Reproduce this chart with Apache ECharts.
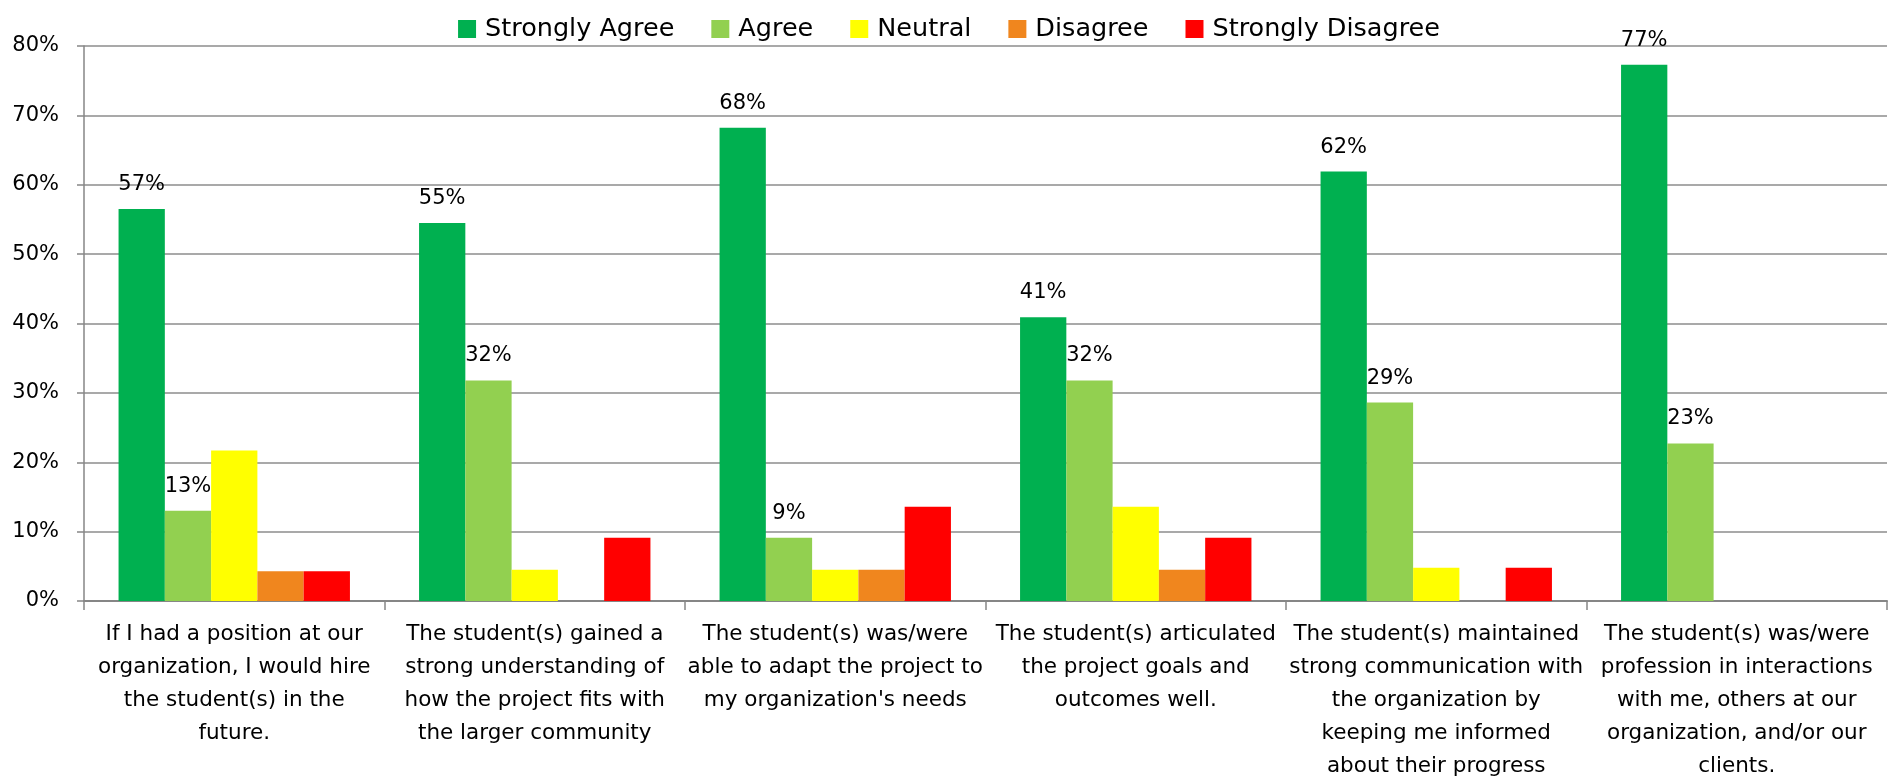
<!DOCTYPE html>
<html>
<head>
<meta charset="utf-8">
<script src="https://cdn.jsdelivr.net/npm/echarts@6/dist/echarts.min.js"></script>
<style>
html,body{margin:0;padding:0;background:#fff;}
#chart{width:1898px;height:777px;}
</style>
</head>
<body>
<div id="chart"></div>
<script>
const categories = [
  "If I had a position at our\norganization, I would hire\nthe student(s) in the\nfuture.",
  "The student(s) gained a\nstrong understanding of\nhow the project fits with\nthe larger community",
  "The student(s) was/were\nable to adapt the project to\nmy organization's needs",
  "The student(s) articulated\nthe project goals and\noutcomes well.",
  "The student(s) maintained\nstrong communication with\nthe organization by\nkeeping me informed\nabout their progress",
  "The student(s) was/were\nprofession in interactions\nwith me, others at our\norganization, and/or our\nclients."
];
const seriesNames = ["Strongly Agree", "Agree", "Neutral", "Disagree", "Strongly Disagree"];
const stronglyAgree    = [56.5, 54.5, 68.2, 40.9, 61.9, 77.3];
const agree            = [13.0, 31.8, 9.1, 31.8, 28.6, 22.7];
const neutral          = [21.7, 4.5, 4.5, 13.6, 4.8, 0];
const disagree         = [4.3, 0, 4.5, 4.5, 0, 0];
const stronglyDisagree = [4.3, 9.1, 13.6, 9.1, 4.8, 0];
const yTicks = [0, 10, 20, 30, 40, 50, 60, 70, 80];

const colors = ["#00B050", "#92D050", "#FFFF00", "#F0861E", "#FF0000"];
const values = [stronglyAgree, agree, neutral, disagree, stronglyDisagree];
const labeled = [true, true, false, false, false];
const FONT = "'DejaVu Sans', sans-serif";

const chart = echarts.init(document.getElementById('chart'), null, {renderer: 'canvas'});
chart.setOption({
  animation: false,
  backgroundColor: '#ffffff',
  color: colors,
  legend: {
    data: seriesNames,
    top: 11,
    left: 'center',
    itemWidth: 18,
    itemHeight: 18,
    itemGap: 37,
    icon: 'rect',
    textStyle: {fontFamily: FONT, fontSize: 25.5, color: '#000', padding: [0, 0, 0, 4]}
  },
  grid: {left: 84, right: 11, top: 46, bottom: 176, containLabel: false, outerBoundsMode: 'none'},
  xAxis: {
    type: 'category',
    data: categories,
    axisLine: {show: true, lineStyle: {color: '#868686', width: 2}},
    axisTick: {show: true, interval: 0, length: 9, lineStyle: {color: '#868686', width: 1.5}},
    axisLabel: {interval: 0, margin: 17, fontFamily: FONT, fontSize: 21.5, lineHeight: 33, color: '#000', align: 'center'}
  },
  yAxis: {
    type: 'value',
    min: yTicks[0],
    max: yTicks[yTicks.length - 1],
    interval: 10,
    axisLine: {show: true, lineStyle: {color: '#868686', width: 1.5}},
    axisTick: {show: true, length: 7, lineStyle: {color: '#868686', width: 1.5}},
    splitLine: {show: true, lineStyle: {color: '#8c8c8c', width: 1.5}},
    axisLabel: {formatter: v => v + '%', fontFamily: FONT, fontSize: 21, color: '#000', margin: 25}
  },
  series: seriesNames.map((name, i) => ({
    name: name,
    type: 'bar',
    data: values[i],
    barGap: '0%',
    barCategoryGap: '23%',
    itemStyle: {color: colors[i]},
    label: {
      show: labeled[i],
      position: 'top',
      distance: 14,
      formatter: p => Math.round(p.value) + '%',
      fontFamily: FONT,
      fontSize: 21,
      color: '#000'
    }
  }))
});
</script>
</body>
</html>
